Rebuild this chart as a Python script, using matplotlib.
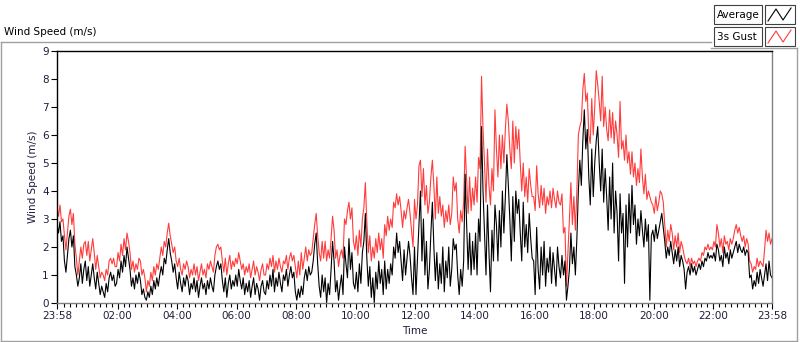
import numpy as np
import matplotlib
matplotlib.use("Agg")
import matplotlib.pyplot as plt
from matplotlib.patches import Rectangle
from matplotlib.lines import Line2D

# 3-minute samples from 23:58 to 23:58 next day, one row per hour
average = [
    2.8, 2.5, 2.9, 2.2, 2.4, 1.5, 1.1, 1.7, 2.3, 2.6, 2.0, 2.4, 1.3, 1.0, 0.6, 0.9, 1.4, 0.7, 1.2, 1.5,
    0.8, 1.3, 0.6, 1.0, 1.4, 0.9, 0.5, 1.1, 0.7, 0.3, 0.6, 0.4, 0.2, 0.7, 0.4, 0.9, 1.1, 0.8, 1.0, 0.6,
    0.7, 1.2, 0.9, 1.5, 1.1, 1.7, 1.3, 2.0, 1.6, 1.2, 0.6, 0.9, 0.5, 1.0, 0.7, 1.1, 0.8, 0.3, 0.5, 0.2,
    0.1, 0.4, 0.2, 0.6, 0.3, 0.8, 0.5, 0.9, 0.6, 1.0, 1.3, 1.0, 1.6, 1.4, 1.9, 2.3, 1.8, 1.5, 1.1, 1.4,
    0.9, 0.5, 1.1, 0.7, 0.4, 0.9, 0.6, 1.0, 0.8, 0.3, 0.7, 0.5, 0.9, 0.4, 0.8, 0.2, 0.6, 0.9, 0.5, 0.7,
    0.3, 0.8, 0.5, 0.9, 0.6, 0.4, 1.0, 1.3, 1.5, 1.2, 1.4, 0.8, 0.4, 0.9, 0.2, 0.7, 1.0, 0.5, 0.8, 0.6,
    1.0, 0.6, 1.2, 0.8, 0.5, 0.9, 0.3, 0.7, 0.4, 0.8, 0.2, 0.6, 0.9, 0.3, 0.7, 0.5, 0.1, 0.6, 0.8, 0.4,
    0.3, 0.8, 0.5, 1.0, 0.6, 1.2, 0.4, 0.9, 0.6, 1.1, 0.7, 0.4, 1.0, 0.8, 1.2, 0.6, 1.0, 1.3, 0.9, 1.1,
    0.4, 0.1, 0.5, 0.2, 0.6, 0.3, 0.9, 1.2, 0.8, 1.3, 1.0, 1.1, 1.5, 2.1, 2.5, 1.4, 0.6, 0.2, 1.0, 0.4,
    0.9, 0.0, 0.7, 0.3, 1.2, 2.2, 1.5, 0.4, 0.8, 0.1, 0.6, 1.0, 0.3, 2.0, 1.4, 0.9, 2.3, 1.2, 1.8, 0.7,
    0.5, 1.1, 0.4, 1.4, 0.7, 1.8, 2.2, 3.2, 1.6, 0.6, 1.3, 0.2, 0.9, 0.0, 1.1, 0.5, 1.5, 0.7, 1.2, 0.3,
    1.5, 0.5, 1.2, 0.7, 1.4, 1.0, 2.0, 1.6, 2.5, 1.8, 2.2, 1.5, 0.8, 1.9, 1.0, 1.6, 2.2, 1.7, 0.9, 0.3,
    2.0, 0.3, 1.6, 2.8, 4.0, 1.5, 3.0, 1.0, 2.2, 0.5, 1.2, 2.5, 3.6, 2.0, 0.8, 1.8, 0.5, 1.4, 0.7, 2.0,
    0.4, 1.5, 0.9, 2.0, 0.6, 1.2, 2.3, 1.9, 2.1, 1.0, 0.3, 1.2, 0.6, 1.5, 4.6, 2.8, 1.2, 2.5, 1.0, 2.2,
    1.2, 2.5, 1.0, 3.0, 2.2, 6.3, 4.0, 2.5, 1.0, 3.5, 1.8, 0.4, 2.6, 1.5, 3.5, 2.8, 1.5, 3.3, 2.0, 4.0,
    2.5, 3.8, 5.3, 4.2, 3.0, 1.5, 3.8, 2.2, 4.0, 3.2, 3.7, 2.5, 1.5, 3.6, 2.0, 2.8, 1.8, 3.2, 2.3, 1.6,
    1.5, 0.3, 2.7, 1.2, 0.5, 2.0, 1.0, 2.2, 0.6, 1.6, 1.1, 2.0, 0.7, 1.8, 1.2, 0.6, 2.0, 1.3, 0.9, 1.7,
    1.0, 1.5, 0.1, 0.6, 1.2, 2.5, 1.4, 2.0, 1.0, 2.3, 4.0, 5.1, 4.2, 5.8, 6.9, 5.5, 6.2, 4.5, 3.5, 5.5,
    3.8, 5.0, 5.8, 6.3, 5.0, 4.0, 5.5, 3.6, 4.8, 3.8, 2.6, 4.5, 3.0, 5.0, 2.5, 4.0, 3.2, 1.5, 3.9, 2.5,
    3.2, 0.7, 3.5, 2.0, 3.9, 2.5, 4.2, 2.8, 3.5, 2.1, 3.0, 2.4, 3.3, 2.6, 2.0, 3.0, 2.2, 2.8, 0.1, 2.4,
    2.6, 2.2, 2.8, 2.3, 2.6, 2.9, 3.2, 2.7, 2.2, 1.6, 2.0, 1.7, 2.2, 1.8, 1.4, 1.9, 1.5, 2.0, 1.3, 1.7,
    1.5, 1.2, 0.5, 1.1, 1.3, 1.0, 1.4, 1.1, 1.3, 1.0, 1.2, 1.4, 1.2, 1.5, 1.3, 1.6, 1.5, 1.8, 1.6, 1.7,
    1.6, 1.8, 1.5, 2.1, 1.9, 1.5, 1.7, 1.3, 2.0, 1.6, 1.8, 1.4, 1.9, 1.6, 1.8, 2.0, 2.2, 1.8, 2.1, 1.9,
    1.8, 2.0, 1.7, 1.9, 1.8, 0.9, 1.0, 0.5, 0.8, 0.6, 1.1, 0.7, 1.2, 0.9, 0.6, 1.0, 1.4, 0.8, 1.5, 1.0, 0.9,
]
gust = [
    3.4, 3.1, 3.5, 2.9, 3.0, 2.4, 1.9, 2.5, 3.1, 3.35, 2.8, 3.2, 2.1, 1.6, 1.0, 1.5, 2.0, 1.6, 2.1, 2.2,
    1.7, 2.2, 1.5, 1.9, 2.3, 1.8, 1.2, 1.7, 1.3, 0.9, 1.1, 1.0, 0.8, 1.2, 1.0, 1.5, 1.6, 1.4, 1.6, 1.3,
    1.3, 1.8, 1.5, 2.1, 1.7, 2.3, 1.9, 2.5, 2.2, 1.8, 1.2, 1.5, 1.1, 1.4, 1.2, 1.6, 1.5, 1.0, 1.2, 0.9,
    0.4, 0.8, 0.6, 1.1, 0.8, 1.3, 1.0, 1.4, 1.2, 1.6, 2.0, 1.7, 2.2, 2.0, 2.5, 2.85, 2.4, 2.1, 1.8, 2.0,
    1.5, 1.3, 1.6, 1.2, 1.0, 1.4, 1.2, 1.5, 1.3, 0.9, 1.2, 1.0, 1.4, 1.0, 1.3, 0.8, 1.1, 1.4, 1.0, 1.2,
    0.9, 1.4, 1.2, 1.5, 1.3, 1.1, 1.7, 2.0, 2.1, 1.9, 2.0, 1.5, 1.1, 1.6, 1.0, 1.4, 1.7, 1.2, 1.5, 1.3,
    1.6, 1.4, 1.8, 1.5, 1.2, 1.4, 1.0, 1.3, 1.1, 1.4, 0.9, 1.2, 1.5, 1.0, 1.3, 1.1, 0.8, 1.2, 1.4, 1.0,
    1.0, 1.4, 1.2, 1.6, 1.3, 1.7, 1.1, 1.5, 1.2, 1.6, 1.3, 1.1, 1.5, 1.4, 1.7, 1.2, 1.6, 1.8, 1.5, 1.7,
    1.3, 0.9, 1.5, 1.0, 1.8, 1.2, 1.6, 2.0, 1.5, 1.9, 1.7, 1.8, 2.3, 2.8, 3.2, 2.4, 1.8, 1.5, 2.2, 1.6,
    2.2, 1.5, 1.9, 1.6, 2.3, 3.1, 2.6, 1.6, 1.9, 1.3, 1.7, 1.9, 1.6, 3.0, 2.8, 3.3, 3.6, 3.0, 3.4, 2.2,
    1.9, 2.4, 1.7, 2.6, 2.0, 3.0, 3.4, 4.3, 2.9, 1.8, 2.4, 1.5, 2.0, 1.6, 2.3, 1.8, 2.5, 1.9, 2.3, 1.6,
    2.8, 2.4, 3.1, 2.6, 3.0, 2.7, 3.6, 3.4, 3.9, 3.5, 3.8, 3.3, 2.7, 3.3, 3.0, 3.4, 3.7, 3.2, 2.6, 2.0,
    3.7, 3.0, 3.5, 4.9, 5.1, 3.8, 4.8, 3.5, 4.2, 3.2, 3.6, 4.5, 5.1, 4.2, 3.0, 4.5, 3.2, 3.8, 3.1, 3.5,
    2.7, 3.3, 2.9, 3.5, 2.8, 3.2, 4.5, 4.0, 4.3, 3.0, 2.5, 3.3, 2.9, 3.6, 5.6, 4.4, 3.2, 4.5, 3.3, 4.1,
    3.5, 4.5, 3.6, 5.2, 4.8, 8.1, 6.2, 5.0, 3.6, 5.5, 4.2, 3.5, 4.8, 4.0, 6.9, 5.5, 4.5, 6.0, 4.8, 6.0,
    5.0, 6.2, 7.1, 6.5, 5.5, 4.8, 6.5, 5.0, 6.3, 5.5, 6.2, 5.0, 4.0, 5.0, 3.8, 4.5, 3.6, 4.8, 4.2, 3.8,
    3.8, 3.3, 4.9, 3.9, 3.4, 4.2, 3.5, 4.1, 3.2, 3.8, 3.5, 4.0, 3.4, 4.1, 3.7, 3.4, 4.0, 3.6, 3.5, 3.9,
    2.5, 2.7, 0.6, 1.8, 3.0, 4.3, 2.8, 3.8, 2.6, 4.0, 6.0, 6.3, 6.5, 7.6, 8.2, 7.2, 7.5, 6.0, 5.7, 7.3,
    6.0, 7.0, 8.3, 7.8, 7.2, 6.5, 8.1, 6.3, 7.0, 6.2, 5.8, 6.9, 5.9, 6.8, 5.7, 6.5, 6.0, 5.2, 7.2, 5.5,
    5.8, 5.1, 6.0, 5.0, 5.4, 4.6, 5.4, 4.5, 5.0, 4.2, 4.8, 4.3, 5.5, 4.5, 3.9, 4.6, 3.7, 4.0, 3.8, 3.6,
    3.5, 3.2, 3.8, 3.3, 3.6, 4.0, 3.9, 3.6, 2.8, 2.0, 2.6, 2.2, 2.8, 2.5, 1.9, 2.4, 2.0, 2.5, 1.8, 2.2,
    2.0, 1.7, 1.5, 1.4, 1.6, 1.3, 1.6, 1.4, 1.5, 1.3, 1.5, 1.6, 1.5, 1.8, 1.7, 2.0, 1.9, 2.1, 1.9, 2.0,
    1.9, 2.2, 2.0, 2.8, 2.5, 2.0, 2.3, 1.8, 2.4, 2.1, 2.2, 1.9, 2.3, 2.1, 2.3, 2.6, 2.8, 2.5, 2.7, 2.4,
    2.2, 2.4, 2.0, 2.3, 2.1, 1.5, 1.4, 1.1, 1.3, 1.2, 1.6, 1.3, 1.5, 1.4, 1.3, 1.9, 2.6, 2.2, 2.5, 2.1, 2.3,
]
tick_labels = ["23:58", "02:00", "04:00", "06:00", "08:00", "10:00", "12:00",
               "14:00", "16:00", "18:00", "20:00", "22:00", "23:58"]

t_avg = np.arange(len(average)) * 3
t_gust = np.arange(len(gust)) * 3
tick_pos = [0] + [2 + 120 * k for k in range(1, 12)] + [1440]
minor_pos = [m for m in range(14, 1440, 12) if m not in tick_pos]

txt = "#1e1e3c"
plt.rcParams["font.family"] = ["DejaVu Sans"]

fig = plt.figure(figsize=(8, 3.42), dpi=100)
W, H = 800, 342

def fx(px):
    return px / W

def fy(py):
    return 1 - py / H

# outer panel frame
grey = "#a0a0a0"
fig.add_artist(Line2D([fx(1), fx(1)], [fy(42), fy(341)], color=grey, lw=1))
fig.add_artist(Line2D([fx(1), fx(711)], [fy(42), fy(42)], color=grey, lw=1))
fig.add_artist(Line2D([fx(711), fx(797)], [fy(48), fy(48)], color=grey, lw=1))
fig.add_artist(Line2D([fx(797), fx(797)], [fy(48), fy(341)], color=grey, lw=1))
fig.add_artist(Line2D([fx(1), fx(797)], [fy(341), fy(341)], color=grey, lw=1))

fig.text(fx(4), fy(32), "Wind Speed (m/s)", fontsize=7.5, color="black", va="center")

# legend boxes
for i, (name, col) in enumerate([("Average", "black"), ("3s Gust", "#ff3c3c")]):
    top = 5 + i * 22
    fig.add_artist(Rectangle((fx(714), fy(top + 19)), 48 / W, 19 / H,
                             facecolor="white", edgecolor="#404040", lw=0.8))
    fig.text(fx(717), fy(top + 10), name, fontsize=7.5, va="center", color="black")
    fig.add_artist(Rectangle((fx(765), fy(top + 19)), 30 / W, 19 / H,
                             facecolor="white", edgecolor="#404040", lw=0.8))
    xs = [768, 776, 783, 791]
    ys = [top + 16, top + 4, top + 15, top + 3]
    fig.add_artist(Line2D([fx(x) for x in xs], [fy(y) for y in ys], color=col, lw=0.8))

ax = fig.add_axes([fx(57), fy(303), (772 - 57) / W, (303 - 51) / H])
ax.plot(t_gust, gust, color="#ff3c3c", lw=0.8)
ax.plot(t_avg, average, color="black", lw=0.8)

ax.set_xlim(0, 1440)
ax.set_ylim(0, 9)
ax.set_yticks(range(10))
ax.set_xticks(tick_pos)
ax.set_xticklabels(tick_labels)
ax.set_xticks(minor_pos, minor=True)
ax.tick_params(axis="both", which="major", length=4, width=0.8, labelsize=7.5,
               colors="black", labelcolor=txt, pad=2)
ax.tick_params(axis="x", which="minor", length=3, width=0.8, colors="black")
ax.set_ylabel("Wind Speed (m/s)", fontsize=7.5, color=txt, labelpad=3)
ax.set_xlabel("Time", fontsize=7.5, color=txt, labelpad=3)

for side in ["top", "left"]:
    ax.spines[side].set_color("black")
for side in ["bottom", "right"]:
    ax.spines[side].set_color("#808080")
for s in ax.spines.values():
    s.set_linewidth(1)

fig.savefig("out.png", dpi=100)
